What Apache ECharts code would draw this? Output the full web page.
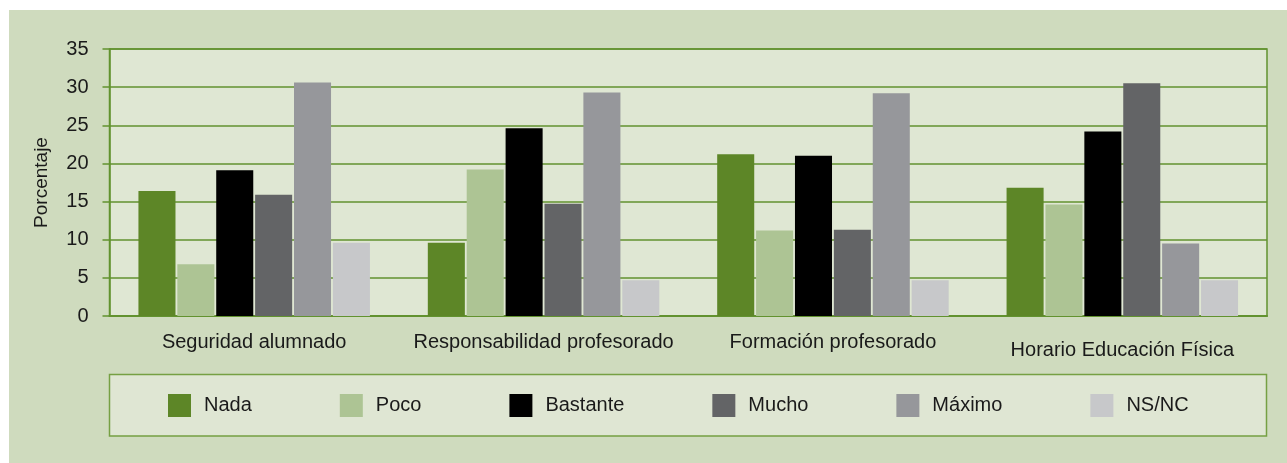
<!DOCTYPE html>
<html>
<head>
<meta charset="utf-8">
<script src="https://cdn.jsdelivr.net/npm/echarts@6/dist/echarts.min.js"></script>
<style>
  html, body { margin: 0; padding: 0; background: #ffffff; }
  #panel { position: absolute; left: 9px; top: 10px; width: 1278px; height: 453px; background: #cfdbbe; }
  #chart { position: absolute; left: 0; top: 0; width: 1287px; height: 463px; }
</style>
</head>
<body>
<div id="panel"></div>
<div id="chart"></div>
<script>
const categories = ['Seguridad alumnado', 'Responsabilidad profesorado', 'Formación profesorado', 'Horario Educación Física'];
const seriesNames = ['Nada', 'Poco', 'Bastante', 'Mucho', 'Máximo', 'NS/NC'];
const nada     = [16.4, 9.6, 21.2, 16.8];
const poco     = [6.8, 19.2, 11.2, 14.6];
const bastante = [19.1, 24.6, 21.0, 24.2];
const mucho    = [15.9, 14.7, 11.3, 30.5];
const maximo   = [30.6, 29.3, 29.2, 9.5];
const nsnc     = [9.6, 4.7, 4.7, 4.7];
const yTicks = { min: 0, max: 35, interval: 5 };
const yAxisName = 'Porcentaje';

const colors = ['#5d8627', '#adc494', '#000000', '#636466', '#96979b', '#c7c8ca'];
const values = [nada, poco, bastante, mucho, maximo, nsnc];
const green = '#62922f';
const font = '"Liberation Sans", Arial, sans-serif';

const chart = echarts.init(document.getElementById('chart'), null, { renderer: 'canvas' });

chart.setOption({
  animation: false,
  textStyle: { fontFamily: font },
  grid: {
    left: 109.5, top: 49, right: 20, bottom: 147,
    containLabel: false,
    outerBoundsMode: 'none',
    show: true,
    backgroundColor: '#dfe7d3',
    borderColor: green,
    borderWidth: 1.5
  },
  graphic: [{
    type: 'rect',
    z: 0,
    silent: true,
    shape: { x: 109.5, y: 374.5, width: 1157, height: 61.5 },
    style: { fill: '#dfe6d3', stroke: '#76a043', lineWidth: 1.5 }
  }],
  legend: {
    data: seriesNames,
    left: 168,
    top: 394,
    padding: 0,
    itemWidth: 23,
    itemHeight: 23,
    itemGap: 88,
    icon: 'rect',
    textStyle: { fontFamily: font, fontSize: 20, color: '#1a1a1a', padding: [0, 0, 0, 8] }
  },
  xAxis: {
    type: 'category',
    data: categories.map((c, i) => i === 3 ? { value: c, textStyle: { padding: [8, 0, 0, 0] } } : c),
    axisLine: { show: true, lineStyle: { color: green, width: 2 } },
    axisTick: { show: false },
    axisLabel: { fontFamily: font, fontSize: 20, color: '#1a1a1a', margin: 16, interval: 0 },
    splitLine: { show: false }
  },
  yAxis: {
    type: 'value',
    min: yTicks.min, max: yTicks.max, interval: yTicks.interval,
    name: yAxisName,
    nameLocation: 'middle',
    nameRotate: 90,
    nameGap: 58,
    nameTextStyle: { fontFamily: font, fontSize: 19, color: '#1a1a1a' },
    axisLine: { show: true, lineStyle: { color: green, width: 1.5 } },
    axisTick: { show: true, length: 7, lineStyle: { color: green, width: 1.5 } },
    axisLabel: { fontFamily: font, fontSize: 20, color: '#1a1a1a', margin: 21 },
    splitLine: { show: true, lineStyle: { color: green, width: 1.5 } }
  },
  series: seriesNames.map((name, i) => ({
    name: name,
    type: 'bar',
    data: values[i],
    barGap: '5%',
    barCategoryGap: '20%',
    itemStyle: { color: colors[i] }
  }))
});
</script>
</body>
</html>
